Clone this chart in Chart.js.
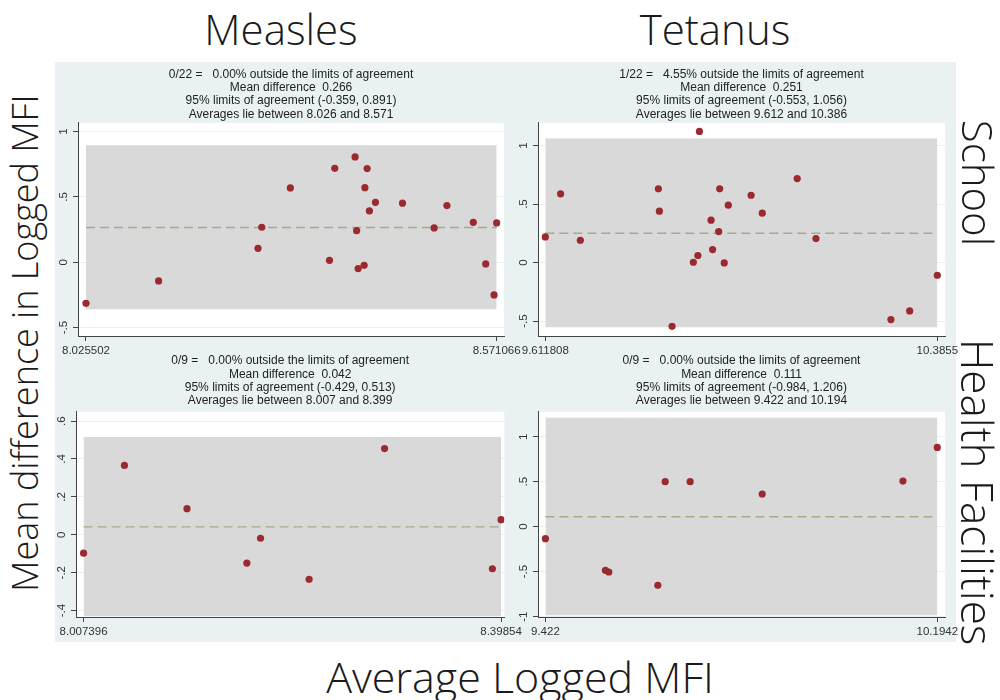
<!DOCTYPE html>
<html>
<head>
<meta charset="utf-8">
<script src="https://cdn.jsdelivr.net/npm/chart.js@4.4.0/dist/chart.umd.min.js"></script>
<style>
body{margin:0;background:#fff;width:1000px;height:700px;position:relative;overflow:hidden;}
.bg{position:absolute;left:55px;top:62px;width:901px;height:580px;background:#e9f1f3;}
canvas{position:absolute;}
.big{position:absolute;font-family:"Open Sans",sans-serif;font-weight:300;font-size:40px;color:#1a1a1a;white-space:nowrap;line-height:1;transform:translate(-50%,-50%);}
</style>
</head>
<body>
<div class="bg"></div>
<canvas id="c1" width="470" height="300" style="left:55px;top:62px"></canvas>
<canvas id="c2" width="476" height="300" style="left:490px;top:62px"></canvas>
<canvas id="c3" width="470" height="300" style="left:55px;top:345px"></canvas>
<canvas id="c4" width="476" height="300" style="left:490px;top:345px"></canvas>

<div class="big" style="left:281px;top:29px;font-size:42px">Measles</div>
<div class="big" style="left:715px;top:29px;font-size:42px">Tetanus</div>
<div class="big" style="left:25px;top:343px;font-size:36px;transform:translate(-50%,-50%) rotate(-90deg)">Mean difference in Logged MFI</div>
<div class="big" style="left:520px;top:676px;font-size:43px">Average Logged MFI</div>
<div class="big" style="left:978px;top:183px;font-size:42px;transform:translate(-50%,-50%) rotate(90deg)">School</div>
<div class="big" style="left:978px;top:492px;font-size:44px;transform:translate(-50%,-50%) rotate(90deg)">Health Facilities</div>

<script>
// Measles, school
var msAvg = [8.025502, 8.122, 8.254, 8.259, 8.297, 8.349, 8.356, 8.383, 8.385, 8.387, 8.395, 8.396, 8.399, 8.402, 8.410, 8.446, 8.488, 8.505, 8.540, 8.5565, 8.5676, 8.571066];
var msDiff = [-0.314, -0.143, 0.107, 0.268, 0.569, 0.015, 0.719, 0.806, 0.242, -0.048, -0.023, 0.571, 0.717, 0.393, 0.459, 0.452, 0.263, 0.434, 0.306, -0.013, -0.25, 0.301];
var msStats = [0.266, -0.359, 0.891]; // mean, lower, upper
var msHead = ["0/22 =   0.00% outside the limits of agreement", "Mean difference  0.266", "95% limits of agreement (-0.359, 0.891)", "Averages lie between 8.026 and 8.571"];
var msXLab = ["8.025502", "8.571066"];

// Tetanus, school
var tsAvg = [9.611808, 9.642, 9.681, 9.835, 9.837, 9.862, 9.904, 9.913, 9.916, 9.939, 9.942, 9.954, 9.956, 9.965, 9.973, 10.018, 10.040, 10.109, 10.146, 10.294, 10.331, 10.3855];
var tsDiff = [0.219, 0.587, 0.191, 0.630, 0.439, -0.544, 0.003, 0.06, 1.12, 0.362, 0.111, 0.265, 0.630, -0.003, 0.49, 0.575, 0.422, 0.718, 0.205, -0.487, -0.413, -0.108];
var tsStats = [0.251, -0.553, 1.056];
var tsHead = ["1/22 =   4.55% outside the limits of agreement", "Mean difference  0.251", "95% limits of agreement (-0.553, 1.056)", "Averages lie between 9.612 and 10.386"];
var tsXLab = ["9.611808", "10.3855"];

// Measles, health facilities
var mhAvg = [8.007396, 8.0457, 8.1043, 8.1604, 8.1732, 8.2187, 8.2894, 8.3904, 8.39854];
var mhDiff = [-0.097, 0.366, 0.138, -0.149, -0.018, -0.235, 0.455, -0.179, 0.080];
var mhStats = [0.042, -0.429, 0.513];
var mhHead = ["0/9 =   0.00% outside the limits of agreement", "Mean difference  0.042", "95% limits of agreement (-0.429, 0.513)", "Averages lie between 8.007 and 8.399"];
var mhXLab = ["8.007396", "8.39854"];

// Tetanus, health facilities
var thAvg = [9.422, 9.5403, 9.5469, 9.6435, 9.658, 9.7072, 9.8492, 10.1265, 10.1942];
var thDiff = [-0.133, -0.485, -0.504, -0.652, 0.5, 0.5, 0.363, 0.507, 0.881];
var thStats = [0.111, -0.984, 1.206];
var thHead = ["0/9 =   0.00% outside the limits of agreement", "Mean difference  0.111", "95% limits of agreement (-0.984, 1.206)", "Averages lie between 9.422 and 10.194"];
var thXLab = ["9.422", "10.1942"];

var yTicksHalf = [-0.5, 0, 0.5, 1];
var yTicksFifth = [-0.4, -0.2, 0, 0.2, 0.4, 0.6];
var yTicksWide = [-1, -0.5, 0, 0.5, 1];

var tickFont = {family: '"Liberation Sans", Arial, sans-serif', size: 11.5};

// stata style labels: .5 instead of 0.5
function fmt(v) {
	return String(v).replace("0.", ".");
}

var plotBg = {
	id: 'plotBg',
	beforeDraw: function(chart) {
		var a = chart.chartArea;
		var ctx = chart.ctx;
		ctx.save();
		ctx.fillStyle = "#ffffff";
		ctx.fillRect(a.left, a.top, a.right - a.left, a.bottom - a.top);
		ctx.restore();
	}
};

var panels = [
	{id: "c1", avg: msAvg, diff: msDiff, stats: msStats, head: msHead, xLab: msXLab, yTicks: yTicksHalf,
	 xr: [8.0149, 8.5808], yr: [-0.564, 1.067], yW: 23, pad: {top: 0, right: 21, bottom: 6, left: 0}, tPad: {top: 6, bottom: 2}},
	{id: "c2", avg: tsAvg, diff: tsDiff, stats: tsStats, head: tsHead, xLab: tsXLab, yTicks: yTicksHalf,
	 xr: [9.5974, 10.4007], yr: [-0.627, 1.194], yW: 48, pad: {top: 0, right: 21, bottom: 6, left: 0}, tPad: {top: 6, bottom: 2}},
	{id: "c3", avg: mhAvg, diff: mhDiff, stats: mhStats, head: mhHead, xLab: mhXLab, yTicks: yTicksFifth,
	 xr: [8.0003, 8.4016], yr: [-0.4335, 0.6495], yW: 21, pad: {top: 0, right: 20, bottom: 8, left: 0}, tPad: {top: 9.4, bottom: 4.5}},
	{id: "c4", avg: thAvg, diff: thDiff, stats: thStats, head: thHead, xLab: thXLab, yTicks: yTicksWide,
	 xr: [9.4074, 10.2094], yr: [-1.004, 1.278], yW: 48, pad: {top: 0, right: 21, bottom: 8, left: 0}, tPad: {top: 9.4, bottom: 4.5}}
];

panels.forEach(function(p) {
	var pts = [];
	for (var i in p.avg) {
		pts.push({x: p.avg[i], y: p.diff[i]});
	}
	var x0 = p.avg[0];
	var x1 = p.avg[p.avg.length - 1];

	new Chart(document.getElementById(p.id), {
		type: 'scatter',
		data: {
			datasets: [
				{
					type: 'scatter',
					data: pts,
					backgroundColor: "#9b2a30",
					borderWidth: 0,
					pointRadius: 3.6,
					order: 1
				},
				{
					type: 'line',
					data: [{x: x0, y: p.stats[0]}, {x: x1, y: p.stats[0]}],
					borderColor: "#a2ad88",
					borderWidth: 1.4,
					borderDash: [9, 5],
					pointRadius: 0,
					fill: false,
					order: 2
				},
				{
					type: 'line',
					data: [{x: x0, y: p.stats[2]}, {x: x1, y: p.stats[2]}],
					borderColor: "#d9d9d9",
					borderWidth: 1,
					backgroundColor: "#d9d9d9",
					pointRadius: 0,
					fill: {value: p.stats[1]},
					order: 3
				}
			]
		},
		options: {
			responsive: false,
			animation: false,
			layout: {padding: p.pad},
			plugins: {
				legend: {display: false},
				tooltip: {enabled: false},
				title: {
					display: true,
					text: p.head,
					fullSize: false,
					color: "#222",
					font: {family: '"Liberation Sans", Arial, sans-serif', size: 12, weight: 'normal', lineHeight: 1.1},
					padding: p.tPad
				}
			},
			scales: {
				x: {
					type: 'linear',
					min: p.xr[0],
					max: p.xr[1],
					afterBuildTicks: function(s) { s.ticks = [{value: x0}, {value: x1}]; },
					afterFit: function(s) { s.height = 20; },
					ticks: {
						autoSkip: false, minRotation: 0, maxRotation: 0, padding: 3,
						color: "#333", font: tickFont,
						callback: function(v, i) { return p.xLab[i]; }
					},
					grid: {drawOnChartArea: false, tickLength: 5, tickColor: "#444"},
					border: {color: "#444"}
				},
				y: {
					type: 'linear',
					min: p.yr[0],
					max: p.yr[1],
					afterBuildTicks: function(s) { s.ticks = p.yTicks.map(function(v) { return {value: v}; }); },
					afterFit: function(s) { s.width = p.yW; },
					ticks: {
						autoSkip: false, minRotation: 90, maxRotation: 90, crossAlign: 'center', padding: 2,
						color: "#333", font: tickFont,
						callback: function(v) { return fmt(v); }
					},
					grid: {color: "#e9f0f2", tickLength: 5, tickColor: "#444"},
					border: {color: "#444"}
				}
			}
		},
		plugins: [plotBg]
	});
});
</script>
</body>
</html>
